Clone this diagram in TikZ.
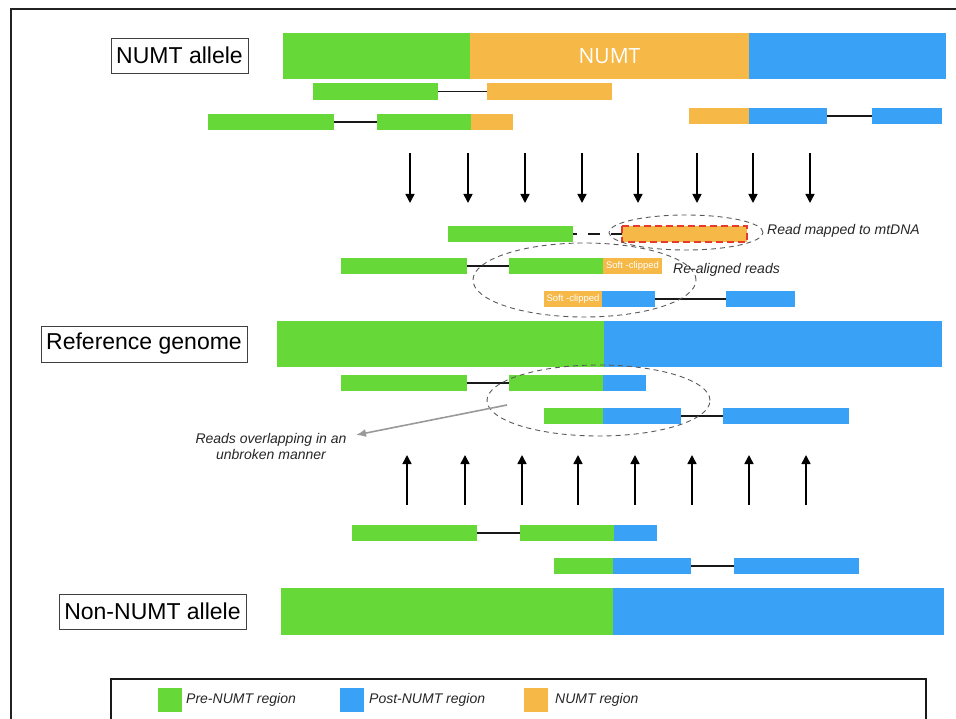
\documentclass[tikz,border=0pt]{standalone}
\usepackage{fontspec}
\setmainfont{Liberation Sans}
\newfontfamily\numtfont{Open Sans}
\usetikzlibrary{arrows.meta,shapes.geometric}

\definecolor{pre}{RGB}{102,217,57}
\definecolor{post}{RGB}{57,162,246}
\definecolor{numt}{RGB}{246,184,70}
\definecolor{mtred}{RGB}{232,58,42}
\definecolor{framegray}{RGB}{34,34,34}

% one coloured stretch of sequence: name, colour, x-from, x-to, y-top, y-bottom, text
\newcommand\barseg[7]{%
  \node[seg,fill=#2,minimum width={(#4-#3)*1pt},minimum height={(#6-#5)*1pt}] (#1) at (#3,#5) {#7};}
% white label inside a clipped stretch
\newcommand\softlabel{{\fontsize{9.5}{10}\selectfont\color{white}Soft -clipped}}

\begin{document}
\begin{tikzpicture}[x=1pt,y=-1pt,
  seg/.style={draw=none,inner sep=0pt,outer sep=0pt,anchor=north west},
  link/.style={line width=1.8pt,black!90},
  flow/.style={line width=1.5pt,black,-{Triangle[width=9pt,length=9pt]}},
  lab/.style={draw=black!75,line width=0.8pt,inner sep=0pt,font=\fontsize{23}{27}\selectfont},
  ring/.style={ellipse,draw=black!65,line width=0.9pt,dash pattern=on 5pt off 4pt,inner sep=0pt},
  note/.style={font=\fontsize{14}{16}\selectfont\itshape,text=black!85,inner sep=0pt},
  key/.style={draw=none,inner sep=0pt,minimum size=24pt,anchor=north west}]

\useasboundingbox (0,0) rectangle (956,719);
\clip (0,0) rectangle (956,719);

% outer frame (runs off the page on the right and bottom)
\draw[line width=2pt,framegray] (10.5,760) -- (10.5,9.5) -- (1000,9.5);

% ---------------- NUMT allele ----------------
\node[lab,minimum width=137pt,minimum height=35pt] (lnumt) at (179.5,55.5) {NUMT allele};
\barseg{g0}{pre}{283}{470}{33}{79}{}
\barseg{o0}{numt}{470}{749}{33}{79}{\numtfont\fontsize{21}{24}\selectfont\color{white}NUMT}
\barseg{b0}{post}{749}{946}{33}{79}{}

\barseg{r1a}{pre}{313}{438}{83}{100}{}
\barseg{r1b}{numt}{487}{612}{83}{100}{}
\draw[link] (r1a.east) -- (r1b.west);

\barseg{r2a}{pre}{208}{334}{114}{130}{}
\barseg{r2b}{pre}{377}{471}{114}{130}{}
\barseg{r2c}{numt}{471}{513}{114}{130}{}
\draw[link] (r2a.east) -- (r2b.west);

\barseg{r3a}{numt}{689}{749}{108}{124}{}
\barseg{r3b}{post}{749}{827}{108}{124}{}
\barseg{r3c}{post}{872}{942}{108}{124}{}
\draw[link] (r3b.east) -- (r3c.west);

% mapping arrows
\foreach \x [count=\i] in {410,468,525,582,638,697,753,810} {
  \coordinate (dtop\i) at (\x,153);
  \coordinate (dbot\i) at (\x,203);
  \draw[flow] (dtop\i) -- (dbot\i);
}

% ---------------- mapped reads ----------------
\barseg{ma}{pre}{448}{573}{226}{242}{}
\barseg{mb}{numt}{622}{747}{226}{242}{}
\draw[mtred,line width=1.5pt,dash pattern=on 7pt off 4pt] (mb.north west) rectangle (mb.south east);
\draw[link,dash pattern=on 4pt off 11pt on 12pt off 11pt on 30pt] (ma.east) -- (mb.west);
\node[ring,minimum width=154pt,minimum height=35pt] (e1) at (686,232.5) {};
\node[note,anchor=west] (tmt) at (767,231) {Read mapped to mtDNA};

\barseg{ba}{pre}{341}{467}{258}{274}{}
\barseg{bb}{pre}{509}{603}{258}{274}{}
\barseg{bc}{numt}{603}{662}{258}{274}{\softlabel}
\draw[link] (ba.east) -- (bb.west);

\barseg{ca}{numt}{544}{602}{291}{307}{\softlabel}
\barseg{cb}{post}{602}{655}{291}{307}{}
\barseg{cc}{post}{726}{795}{291}{307}{}
\draw[link] (cb.east) -- (cc.west);

\node[ring,minimum width=223pt,minimum height=74pt] (e2) at (584.5,280) {};
\node[note,anchor=west] (tre) at (673,270) {Re-aligned reads};

% ---------------- reference genome ----------------
\node[lab,minimum width=206pt,minimum height=36pt] (lref) at (144,344) {Reference genome};
\barseg{rg}{pre}{277}{604}{321}{367}{}
\barseg{rb}{post}{604}{942}{321}{367}{}

\barseg{da}{pre}{341}{467}{375}{391}{}
\barseg{db}{pre}{509}{603}{375}{391}{}
\barseg{dc}{post}{603}{646}{375}{391}{}
\draw[link] (da.east) -- (db.west);

\barseg{ea}{pre}{544}{603}{408}{424}{}
\barseg{eb}{post}{603}{681}{408}{424}{}
\barseg{ec}{post}{723}{849}{408}{424}{}
\draw[link] (eb.east) -- (ec.west);

\node[ring,minimum width=223pt,minimum height=71pt] (e3) at (598.5,400.5) {};

\node[note,align=center,anchor=north] (tov) at (271,433) {Reads overlapping in an\\unbroken manner};
\coordinate (ovs) at (507,405);
\coordinate (ove) at (356,435);
\draw[line width=1.6pt,black!40,-{Latex[length=10pt,width=8pt]}] (ovs) -- (ove);

% mapping arrows from the non-NUMT allele
\foreach \x [count=\i] in {407,465,522,578,635,692,749,806} {
  \coordinate (ubot\i) at (\x,505);
  \coordinate (utop\i) at (\x,455);
  \draw[flow] (ubot\i) -- (utop\i);
}

\barseg{fa}{pre}{352}{477}{525}{541}{}
\barseg{fb}{pre}{520}{614}{525}{541}{}
\barseg{fc}{post}{614}{657}{525}{541}{}
\draw[link] (fa.east) -- (fb.west);

\barseg{ga}{pre}{554}{613}{558}{574}{}
\barseg{gb}{post}{613}{691}{558}{574}{}
\barseg{gc}{post}{734}{859}{558}{574}{}
\draw[link] (gb.east) -- (gc.west);

% ---------------- non-NUMT allele ----------------
\node[lab,minimum width=187pt,minimum height=35pt] (lnon) at (152.5,611.5) {Non-NUMT allele};
\barseg{na}{pre}{281}{613}{588}{635}{}
\barseg{nb}{post}{613}{944}{588}{635}{}

% ---------------- legend ----------------
\draw[line width=2pt,black!90] (110.5,760) -- (110.5,679) -- (926,679) -- (926,760);
\node[key,fill=pre] (kpre) at (158,688) {};
\node[key,fill=post] (kpost) at (340,688) {};
\node[key,fill=numt] (knumt) at (524,688) {};
\node[note,anchor=west] (tpre) at (186,700) {Pre-NUMT region};
\node[note,anchor=west] (tpost) at (369,700) {Post-NUMT region};
\node[note,anchor=west] (tnumt) at (555,700) {NUMT region};
\end{tikzpicture}
\end{document}
